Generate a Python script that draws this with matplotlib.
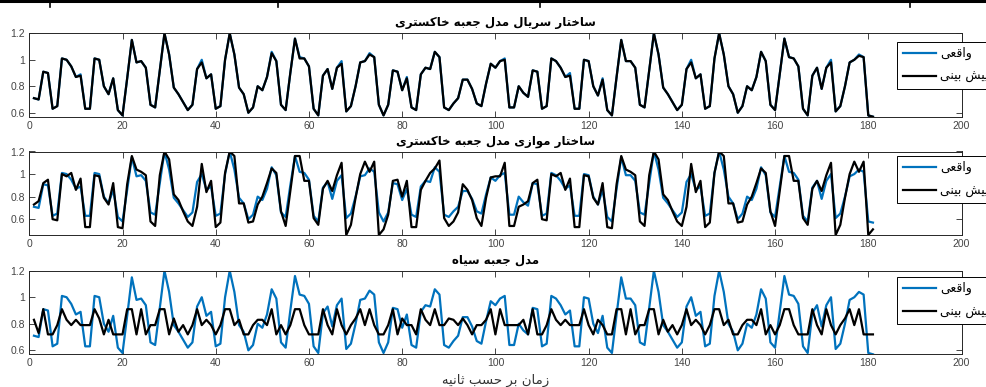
import numpy as np
import matplotlib
matplotlib.use("Agg")
import matplotlib.pyplot as plt
from matplotlib.lines import Line2D

# ---- data ----
actual = [
    0.71, 0.70, 0.91, 0.90, 0.63, 0.65, 1.01, 1.00, 0.95, 0.87,
    0.89, 0.63, 0.63, 1.01, 1.00, 0.80, 0.74, 0.86, 0.62, 0.58,
    0.86, 1.15, 0.98, 0.99, 0.94, 0.66, 0.64, 0.92, 1.20, 1.04,
    0.79, 0.74, 0.68, 0.62, 0.66, 0.93, 1.00, 0.86, 0.89, 0.63,
    0.65, 1.00, 1.20, 1.04, 0.79, 0.74, 0.60, 0.64, 0.80, 0.77,
    0.87, 1.06, 0.99, 0.66, 0.62, 0.90, 1.16, 1.02, 1.01, 0.95,
    0.63, 0.58, 0.88, 0.93, 0.78, 0.94, 0.99, 0.61, 0.65, 0.80,
    0.98, 0.99, 1.05, 1.02, 0.66, 0.58, 0.66, 0.92, 0.91, 0.77,
    0.87, 0.64, 0.62, 0.89, 0.94, 0.93, 1.06, 1.02, 0.64, 0.62,
    0.67, 0.71, 0.85, 0.85, 0.78, 0.67, 0.65, 0.82, 0.97, 0.94,
    0.99, 1.01, 0.64, 0.64, 0.80, 0.75, 0.72, 0.92, 0.91, 0.63,
    0.65, 1.01, 0.99, 0.94, 0.87, 0.90, 0.63, 0.63, 1.00, 0.99,
    0.80, 0.73, 0.86, 0.62, 0.58, 0.87, 1.15, 0.99, 0.99, 0.94,
    0.66, 0.64, 0.92, 1.20, 1.04, 0.79, 0.74, 0.68, 0.62, 0.66,
    0.93, 1.00, 0.86, 0.89, 0.63, 0.65, 1.01, 1.20, 1.04, 0.80,
    0.74, 0.60, 0.65, 0.80, 0.77, 0.87, 1.06, 0.99, 0.66, 0.62,
    0.89, 1.16, 1.02, 1.01, 0.95, 0.63, 0.58, 0.88, 0.94, 0.78,
    0.94, 1.00, 0.61, 0.65, 0.80, 0.98, 1.00, 1.04, 1.02, 0.58, 0.57,
]

pred_serial = [
    0.71, 0.70, 0.91, 0.90, 0.63, 0.65, 1.01, 1.00, 0.95, 0.87,
    0.88, 0.63, 0.63, 1.01, 1.00, 0.80, 0.74, 0.86, 0.62, 0.58,
    0.86, 1.15, 0.98, 0.99, 0.94, 0.66, 0.64, 0.92, 1.20, 1.04,
    0.79, 0.74, 0.68, 0.62, 0.66, 0.93, 0.98, 0.86, 0.89, 0.63,
    0.65, 1.00, 1.20, 1.04, 0.79, 0.74, 0.60, 0.64, 0.80, 0.77,
    0.87, 1.05, 0.99, 0.66, 0.62, 0.90, 1.16, 1.01, 1.01, 0.95,
    0.63, 0.58, 0.88, 0.93, 0.78, 0.94, 0.97, 0.61, 0.65, 0.80,
    0.98, 0.99, 1.04, 1.02, 0.66, 0.58, 0.66, 0.92, 0.91, 0.77,
    0.86, 0.64, 0.62, 0.89, 0.94, 0.93, 1.06, 1.02, 0.64, 0.62,
    0.67, 0.71, 0.85, 0.85, 0.78, 0.67, 0.65, 0.82, 0.97, 0.94,
    0.99, 1.00, 0.64, 0.64, 0.80, 0.75, 0.72, 0.92, 0.91, 0.63,
    0.65, 1.01, 0.99, 0.94, 0.87, 0.88, 0.63, 0.63, 1.00, 0.99,
    0.80, 0.73, 0.85, 0.62, 0.58, 0.87, 1.15, 0.99, 0.99, 0.94,
    0.66, 0.64, 0.92, 1.20, 1.04, 0.79, 0.74, 0.68, 0.62, 0.66,
    0.93, 0.98, 0.86, 0.89, 0.63, 0.65, 1.01, 1.20, 1.04, 0.80,
    0.74, 0.60, 0.65, 0.80, 0.77, 0.87, 1.06, 0.99, 0.66, 0.62,
    0.89, 1.16, 1.02, 1.01, 0.95, 0.63, 0.58, 0.88, 0.94, 0.78,
    0.94, 0.98, 0.61, 0.65, 0.80, 0.98, 1.00, 1.03, 1.02, 0.58, 0.57,
]

pred_parallel = [
    0.73, 0.76, 0.92, 0.95, 0.60, 0.59, 1.00, 0.98, 1.01, 0.86,
    0.96, 0.53, 0.53, 0.99, 0.98, 0.79, 0.73, 0.92, 0.53, 0.52,
    0.91, 1.16, 1.04, 1.02, 0.99, 0.58, 0.54, 0.99, 1.20, 1.13,
    0.82, 0.77, 0.67, 0.58, 0.54, 0.71, 1.09, 0.84, 0.94, 0.53,
    0.57, 1.01, 1.20, 1.16, 0.74, 0.74, 0.57, 0.58, 0.73, 0.80,
    0.92, 1.05, 1.01, 0.67, 0.54, 0.85, 1.16, 1.16, 0.94, 0.94,
    0.61, 0.55, 0.87, 0.94, 0.85, 0.99, 1.10, 0.46, 0.55, 0.79,
    1.00, 1.11, 1.02, 1.11, 0.46, 0.51, 0.64, 0.94, 0.95, 0.80,
    0.94, 0.53, 0.53, 0.86, 0.94, 1.01, 1.05, 1.12, 0.61, 0.54,
    0.58, 0.66, 0.91, 0.86, 0.77, 0.61, 0.54, 0.79, 0.97, 0.98,
    0.98, 1.10, 0.54, 0.54, 0.71, 0.73, 0.76, 0.92, 0.95, 0.60,
    0.59, 1.00, 0.98, 1.01, 0.86, 0.96, 0.53, 0.53, 0.99, 0.98,
    0.79, 0.73, 0.92, 0.53, 0.52, 0.91, 1.16, 1.04, 1.02, 0.99,
    0.58, 0.54, 0.99, 1.20, 1.13, 0.82, 0.77, 0.67, 0.58, 0.54,
    0.71, 1.09, 0.84, 0.94, 0.53, 0.57, 1.01, 1.20, 1.16, 0.74,
    0.74, 0.57, 0.58, 0.73, 0.80, 0.92, 1.05, 1.01, 0.67, 0.54,
    0.85, 1.16, 1.16, 0.94, 0.94, 0.61, 0.55, 0.87, 0.94, 0.85,
    0.99, 1.10, 0.46, 0.55, 0.79, 1.00, 1.11, 1.02, 1.11, 0.46, 0.51,
]

pred_blackbox = [
    0.83, 0.73, 0.91, 0.72, 0.72, 0.79, 0.91, 0.83, 0.79, 0.83,
    0.79, 0.79, 0.79, 0.91, 0.84, 0.72, 0.83, 0.72, 0.72, 0.72,
    0.91, 0.91, 0.72, 0.91, 0.72, 0.79, 0.79, 0.91, 0.91, 0.72,
    0.84, 0.74, 0.79, 0.72, 0.79, 0.91, 0.79, 0.83, 0.79, 0.72,
    0.79, 0.91, 0.91, 0.79, 0.83, 0.72, 0.72, 0.79, 0.83, 0.83,
    0.79, 0.91, 0.72, 0.79, 0.72, 0.79, 0.91, 0.91, 0.79, 0.72,
    0.72, 0.72, 0.91, 0.79, 0.72, 0.91, 0.79, 0.72, 0.79, 0.84,
    0.91, 0.79, 0.91, 0.79, 0.72, 0.72, 0.79, 0.91, 0.72, 0.84,
    0.79, 0.79, 0.72, 0.91, 0.83, 0.79, 0.91, 0.79, 0.79, 0.84,
    0.83, 0.79, 0.84, 0.79, 0.72, 0.79, 0.79, 0.83, 0.91, 0.72,
    0.91, 0.79, 0.79, 0.79, 0.79, 0.83, 0.72, 0.91, 0.72, 0.72,
    0.79, 0.91, 0.83, 0.79, 0.83, 0.79, 0.79, 0.79, 0.91, 0.79,
    0.72, 0.83, 0.79, 0.72, 0.72, 0.91, 0.91, 0.72, 0.91, 0.72,
    0.79, 0.79, 0.91, 0.91, 0.72, 0.83, 0.74, 0.79, 0.72, 0.79,
    0.91, 0.79, 0.83, 0.79, 0.72, 0.79, 0.91, 0.91, 0.79, 0.83,
    0.72, 0.72, 0.79, 0.83, 0.83, 0.79, 0.91, 0.72, 0.79, 0.72,
    0.79, 0.91, 0.91, 0.79, 0.72, 0.72, 0.72, 0.91, 0.79, 0.72,
    0.91, 0.79, 0.72, 0.79, 0.84, 0.91, 0.79, 0.91, 0.72, 0.72, 0.72,
]

titles = [
    "ساختار سریال مدل جعبه خاکستری",
    "ساختار موازی مدل جعبه خاکستری",
    "مدل جعبه سیاه",
]
legend_labels = ["واقعی", "پیش بینی"]
xlabel_text = "زمان بر حسب ثانیه"
xticks = [0, 20, 40, 60, 80, 100, 120, 140, 160, 180, 200]
yticks = [0.6, 0.8, 1.0, 1.2]

t = np.arange(1, len(actual) + 1)

# ---- minimal Persian shaping (matplotlib has no RTL / joining support) ----
FORMS = {
    'ا': (0xFE8D, 0xFE8E), 'د': (0xFEA9, 0xFEAA), 'ر': (0xFEAD, 0xFEAE),
    'ز': (0xFEAF, 0xFEB0), 'و': (0xFEED, 0xFEEE),
    'ب': (0xFE8F, 0xFE90, 0xFE91, 0xFE92), 'ت': (0xFE95, 0xFE96, 0xFE97, 0xFE98),
    'ث': (0xFE99, 0xFE9A, 0xFE9B, 0xFE9C), 'ج': (0xFE9D, 0xFE9E, 0xFE9F, 0xFEA0),
    'ح': (0xFEA1, 0xFEA2, 0xFEA3, 0xFEA4), 'خ': (0xFEA5, 0xFEA6, 0xFEA7, 0xFEA8),
    'س': (0xFEB1, 0xFEB2, 0xFEB3, 0xFEB4), 'ش': (0xFEB5, 0xFEB6, 0xFEB7, 0xFEB8),
    'ع': (0xFEC9, 0xFECA, 0xFECB, 0xFECC), 'ق': (0xFED5, 0xFED6, 0xFED7, 0xFED8),
    'ل': (0xFEDD, 0xFEDE, 0xFEDF, 0xFEE0), 'م': (0xFEE1, 0xFEE2, 0xFEE3, 0xFEE4),
    'ن': (0xFEE5, 0xFEE6, 0xFEE7, 0xFEE8), 'ه': (0xFEE9, 0xFEEA, 0xFEEB, 0xFEEC),
    'پ': (0xFB56, 0xFB57, 0xFB58, 0xFB59), 'ک': (0xFB8E, 0xFB8F, 0xFB90, 0xFB91),
    'ی': (0xFBFC, 0xFBFD, 0xFBFE, 0xFBFF),
}


def fa(text):
    out = []
    for i, ch in enumerate(text):
        if ch not in FORMS:
            out.append(ch)
            continue
        prev = text[i - 1] if i > 0 else ''
        nxt = text[i + 1] if i + 1 < len(text) else ''
        join_prev = prev in FORMS and len(FORMS[prev]) == 4
        join_next = len(FORMS[ch]) == 4 and nxt in FORMS
        if join_prev and join_next:
            k = 3
        elif join_prev:
            k = 1
        elif join_next:
            k = 2
        else:
            k = 0
        out.append(chr(FORMS[ch][k]))
    return ''.join(reversed(out))


W, H = 986, 387
fig = plt.figure(figsize=(W / 100, H / 100), dpi=100)

blue = '#0072BD'
axis_col = '#262626'
left, right = 29.3, 961.5
panels = [
    # (top px, bottom px, predicted series, legend top px)
    (33.3, 116.7, pred_serial, 41.5),
    (151.5, 235.0, pred_parallel, 155.7),
    (270.7, 354.3, pred_blackbox, 276.7),
]

for k, (top, bot, pred, leg_top) in enumerate(panels):
    ax = fig.add_axes([left / W, 1 - bot / H, (right - left) / W, (bot - top) / H])
    l1, = ax.plot(t, actual, color=blue, lw=1.6)
    l2, = ax.plot(t, pred, color='black', lw=1.6)
    ax.set_xlim(0, 200)
    ax.set_ylim(min(min(actual), min(pred)), max(max(actual), max(pred)))
    ax.set_xticks(xticks)
    ax.set_yticks(yticks)
    ax.set_yticklabels(['%g' % v for v in yticks])
    ax.tick_params(direction='in', top=True, right=True, length=4, width=0.6,
                   labelsize=7.5, labelcolor='#444444', color=axis_col, pad=3)
    for lab in ax.get_xticklabels() + ax.get_yticklabels():
        lab.set_family('Liberation Sans')
    for sp in ax.spines.values():
        sp.set_color(axis_col)
        sp.set_linewidth(0.7)
    ax.set_title(fa(titles[k]), fontsize=8.5, fontweight='bold',
                 family='DejaVu Sans', pad=5)
    leg = ax.legend([l1, l2], [fa(s) for s in legend_labels],
                    loc='upper left', bbox_to_anchor=(897 / W, 1 - leg_top / H),
                    bbox_transform=fig.transFigure, borderaxespad=0,
                    fancybox=False, framealpha=1, edgecolor='black',
                    prop={'family': 'DejaVu Sans', 'size': 9},
                    handlelength=2.7, handletextpad=0.3, labelspacing=0.8,
                    borderpad=0.45)
    leg.get_frame().set_linewidth(0.7)
    if k == 2:
        ax.set_xlabel(fa(xlabel_text), fontsize=9.5, family='DejaVu Sans',
                      color='#333333', labelpad=4)

# border line of the surrounding table cut off at the top
fig.add_artist(Line2D([0, 1], [1 - 1.2 / H] * 2, transform=fig.transFigure,
                      color='black', lw=2.2))
for xm in [50, 278, 540, 910]:
    fig.add_artist(Line2D([xm / W] * 2, [1, 1 - 7 / H], transform=fig.transFigure,
                          color='black', lw=1.2))

fig.savefig('out.png', dpi=100)
